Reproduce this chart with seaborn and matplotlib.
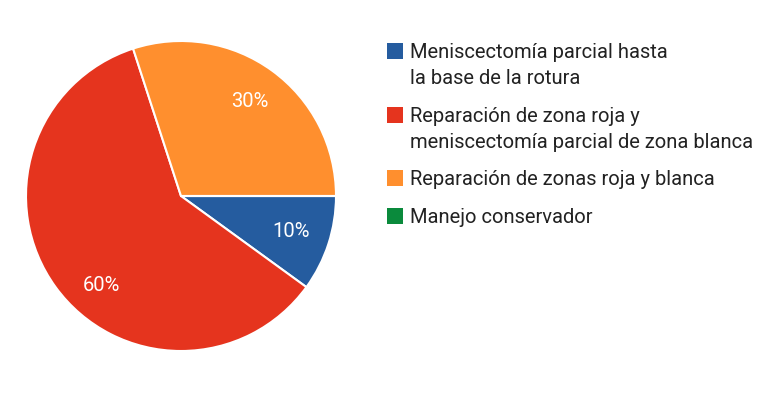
import numpy as np
import matplotlib
matplotlib.use("Agg")
import matplotlib.pyplot as plt
from matplotlib.patches import Rectangle
import seaborn as sns

# data
categories = [
    "Meniscectomía parcial hasta\nla base de la rotura",
    "Reparación de zona roja y\nmeniscectomía parcial de zona blanca",
    "Reparación de zonas roja y blanca",
    "Manejo conservador",
]
shares = [10, 60, 30, 0]
colors = ["#255c9f", "#e5341e", "#ff8f2e", "#0a8a3c"]

W, H = 780, 394
sns.set_theme(style="white")
plt.rcParams["font.family"] = ["Roboto", "DejaVu Sans"]

fig = plt.figure(figsize=(W / 100, H / 100), dpi=100)
ax = fig.add_axes([26 / W, 43 / H, 310 / W, 310 / H])


def pct(v):
    return "" if v < 0.5 else f"{v:.0f}%"


wedges, texts, autotexts = ax.pie(
    shares,
    colors=colors,
    startangle=0,
    counterclock=False,
    autopct=pct,
    pctdistance=0.75,
    wedgeprops=dict(edgecolor="white", linewidth=1.5, clip_on=False),
    textprops=dict(color="white", fontsize=14.5),
)
ax.set_xlim(-1, 1)
ax.set_ylim(-1, 1)
ax.set_aspect("equal")

# the 60% label sits a bit lower in the reference
ang = np.deg2rad(-131.6)
autotexts[1].set_position((0.77 * np.cos(ang), 0.77 * np.sin(ang)))

# hand-made legend: square aligned with first line of each label
base = 58.5       # baseline of first line, px from top
line_step = 26
item_gap = 37.5
for lab, col in zip(categories, colors):
    fig.add_artist(Rectangle((386.5 / W, 1 - (base + 0.5) / H), 16.5 / W, 16 / H,
                             transform=fig.transFigure, facecolor=col,
                             edgecolor="none"))
    lines = lab.split("\n")
    for i, ln in enumerate(lines):
        fig.text(410 / W, 1 - (base + i * line_step) / H, ln, fontsize=14.5,
                 color="#222222", va="baseline", ha="left")
    base += (len(lines) - 1) * line_step + item_gap

fig.savefig("out.png", dpi=100)
